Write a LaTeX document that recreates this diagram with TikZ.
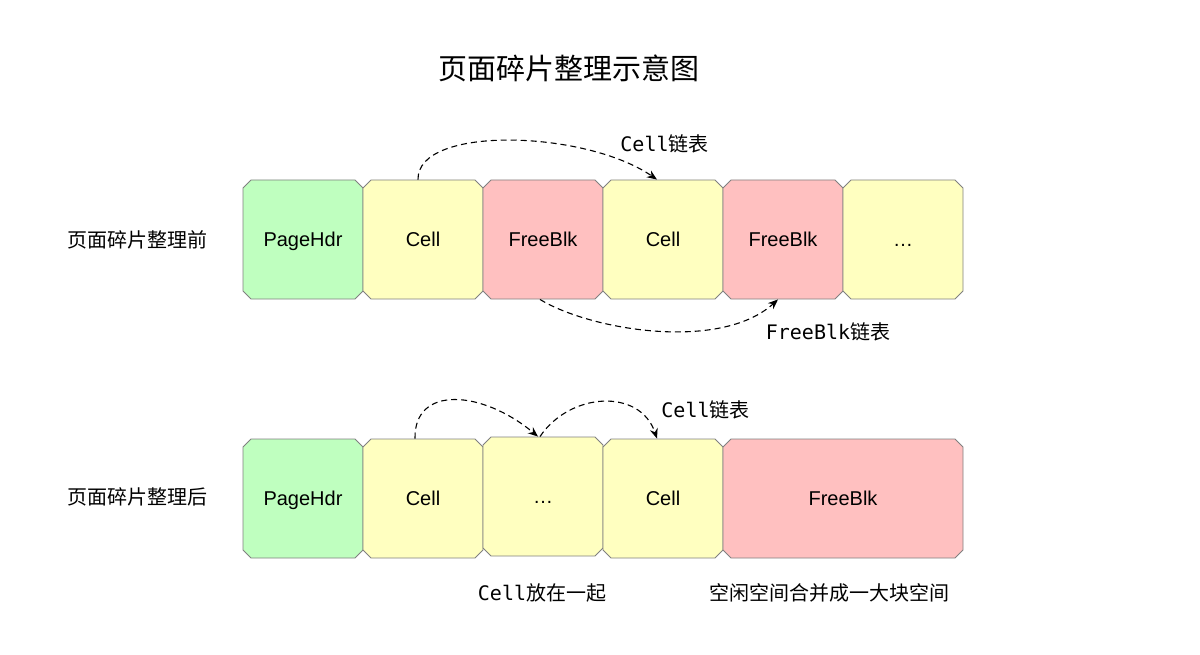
\documentclass[tikz,border=0pt]{standalone}
\usepackage{fontspec}
\setmainfont{Liberation Sans}
\setmonofont{DejaVu Sans Mono}
\newfontfamily\cjk{Noto Sans CJK SC}
\usetikzlibrary{shapes.misc,arrows.meta}
\definecolor{hdrgreen}{RGB}{191,255,191}
\definecolor{cellyellow}{RGB}{255,255,192}
\definecolor{freepink}{RGB}{255,192,192}
\definecolor{edgegray}{RGB}{128,128,128}
\tikzset{
  blk/.style={chamfered rectangle, chamfered rectangle xsep=4pt, chamfered rectangle ysep=4pt,
    draw=edgegray, line width=0.9pt, minimum width=120pt, minimum height=119pt, inner sep=0pt,
    text height=14.3pt, text depth=0pt,
    font=\fontsize{20}{24}\selectfont},
  hdr/.style={blk, fill=hdrgreen},
  cel/.style={blk, fill=cellyellow},
  fre/.style={blk, fill=freepink},
  lbl/.style={font=\fontsize{20}{24}\selectfont\cjk, inner sep=0pt},
  mlbl/.style={font=\fontsize{20}{24}\selectfont, inner sep=0pt},
  link/.style={line width=1.1pt, dash pattern=on 6pt off 4pt, -{Stealth[length=10pt,width=8pt]}},
}
\begin{document}
\begin{tikzpicture}[x=1pt,y=-1pt]
\useasboundingbox (0,0) rectangle (1200,655);
\node[font=\fontsize{29}{34}\selectfont\cjk, inner sep=0pt] (title) at (569,68) {页面碎片整理示意图};
\node[lbl] (before) at (137,240) {页面碎片整理前};
\node[lbl] (after) at (137,497) {页面碎片整理后};
% top row
\node[hdr] (ph1) at (303,239.5) {PageHdr};
\node[cel] (c1) at (423,239.5) {Cell};
\node[fre] (f1) at (543,239.5) {FreeBlk};
\node[cel] (c2) at (663,239.5) {Cell};
\node[fre] (f2) at (783,239.5) {FreeBlk};
\node[cel] (e1) at (903,239.5) {…};
% bottom row
\node[hdr] (ph2) at (303,498.5) {PageHdr};
\node[cel] (c3) at (423,498.5) {Cell};
\node[cel] (e2) at (543,496.5) {…};
\node[cel] (c4) at (663,498.5) {Cell};
\node[fre, minimum width=240pt] (f3) at (843,498.5) {FreeBlk};
% labels
\node[mlbl] (l1) at (664.5,144) {\texttt{Cell}\cjk 链表};
\node[mlbl] (l2) at (828,332) {\texttt{FreeBlk}\cjk 链表};
\node[mlbl] (l3) at (705.5,410) {\texttt{Cell}\cjk 链表};
\node[mlbl] (l4) at (542,593) {\texttt{Cell}\cjk 放在一起};
\node[lbl] (l5) at (829,593) {空闲空间合并成一大块空间};
% links
\draw[link] ([xshift=-5pt]c1.north) .. controls (417,125) and (585,130) .. ([xshift=-6pt]c2.north);
\draw[link] ([xshift=-3pt]f1.south) .. controls (590,330) and (720,352) .. ([xshift=-5pt]f2.south);
\draw[link] ([xshift=-8pt]c3.north) .. controls (414,385) and (482,390) .. ([xshift=-5pt]e2.north);
\draw[link] ([xshift=-3pt]e2.north) .. controls (570,392) and (640,388) .. ([xshift=-6pt]c4.north);
\end{tikzpicture}
\end{document}
